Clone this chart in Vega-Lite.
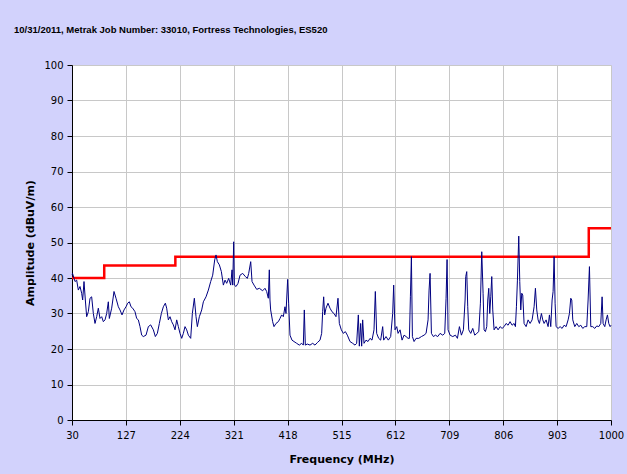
{
  "$schema": "https://vega.github.io/schema/vega-lite/v6.json",
  "width": 539,
  "height": 355,
  "autosize": {"type": "none"},
  "padding": {"left": 72, "top": 65, "right": 16, "bottom": 54},
  "background": "#d2d2fc",
  "title": {
    "text": "10/31/2011, Metrak Job Number: 33010, Fortress Technologies, ES520",
    "anchor": "start",
    "frame": "group",
    "dx": -58,
    "offset": 26,
    "font": "Liberation Sans",
    "fontSize": 9.5,
    "fontWeight": "bold",
    "color": "#000000"
  },
  "config": {
    "view": {"fill": "#ffffff", "stroke": null},
    "axis": {
      "labelFont": "DejaVu Sans",
      "labelFontSize": 10,
      "labelColor": "#000000",
      "titleFont": "DejaVu Sans",
      "titleFontSize": 11,
      "titleFontWeight": "bold",
      "titleColor": "#000000",
      "domainColor": "#000000",
      "domainWidth": 1,
      "tickColor": "#000000",
      "tickSize": 5,
      "gridColor": "#c8c8c8",
      "gridWidth": 1
    }
  },
  "datasets": {
    "limit": [
      {"f": 30, "a": 40},
      {"f": 88, "a": 43.5},
      {"f": 216, "a": 46},
      {"f": 960, "a": 54},
      {"f": 1000, "a": 54}
    ],
    "trace": [
      {"f": 30, "a": 41.0}, {"f": 31, "a": 41.3}, {"f": 33.6, "a": 39.9}, {"f": 35.4, "a": 39.0}, {"f": 38.4, "a": 39.4},
      {"f": 41.4, "a": 36.6}, {"f": 44.4, "a": 37.6}, {"f": 47.4, "a": 35.7}, {"f": 49.2, "a": 33.8}, {"f": 51.6, "a": 39.0},
      {"f": 54, "a": 33.8}, {"f": 56.4, "a": 29.1}, {"f": 59.4, "a": 30.5}, {"f": 62.4, "a": 34.3}, {"f": 65.4, "a": 34.7},
      {"f": 68.4, "a": 30.0}, {"f": 71.4, "a": 27.2}, {"f": 74.4, "a": 29.1}, {"f": 77.4, "a": 31.5}, {"f": 80.4, "a": 28.6},
      {"f": 83.4, "a": 29.1}, {"f": 86.4, "a": 27.7}, {"f": 89.4, "a": 28.2}, {"f": 92.4, "a": 30.0}, {"f": 95.4, "a": 33.3},
      {"f": 97.2, "a": 28.6}, {"f": 101.4, "a": 31.5}, {"f": 105.6, "a": 36.2}, {"f": 109.2, "a": 34.3}, {"f": 113.4, "a": 31.9},
      {"f": 116.4, "a": 31.0}, {"f": 120, "a": 29.6}, {"f": 123.6, "a": 31.0}, {"f": 127.2, "a": 31.9}, {"f": 130.2, "a": 32.9},
      {"f": 133.2, "a": 33.3}, {"f": 136.2, "a": 31.9}, {"f": 139.2, "a": 31.5}, {"f": 143.4, "a": 30.5}, {"f": 146.4, "a": 28.6},
      {"f": 149.4, "a": 28.2}, {"f": 152.4, "a": 26.3}, {"f": 155.4, "a": 23.9}, {"f": 158.4, "a": 23.5}, {"f": 163.2, "a": 23.9},
      {"f": 167.4, "a": 26.3}, {"f": 171.6, "a": 26.8}, {"f": 176.4, "a": 25.4}, {"f": 180, "a": 23.5}, {"f": 183.6, "a": 24.4},
      {"f": 187.2, "a": 27.2}, {"f": 190.8, "a": 30.0}, {"f": 194.4, "a": 31.9}, {"f": 198, "a": 32.9}, {"f": 200.4, "a": 31.5},
      {"f": 203.4, "a": 28.2}, {"f": 206.4, "a": 29.1}, {"f": 209.4, "a": 27.7}, {"f": 212.4, "a": 26.8}, {"f": 215.4, "a": 25.4},
      {"f": 218.4, "a": 28.2}, {"f": 221.4, "a": 26.3}, {"f": 224.4, "a": 24.4}, {"f": 227.4, "a": 23.0}, {"f": 230.4, "a": 24.4},
      {"f": 233.4, "a": 26.3}, {"f": 236.4, "a": 25.4}, {"f": 239.4, "a": 23.9}, {"f": 243.6, "a": 23.0}, {"f": 246.6, "a": 30.0},
      {"f": 250.2, "a": 34.3}, {"f": 253.2, "a": 29.1}, {"f": 255.6, "a": 26.3}, {"f": 259.2, "a": 29.1}, {"f": 263.4, "a": 31.0},
      {"f": 266.4, "a": 33.3}, {"f": 271.2, "a": 34.7}, {"f": 275.4, "a": 36.6}, {"f": 279.6, "a": 39.0}, {"f": 283.2, "a": 40.8},
      {"f": 286.8, "a": 45.1}, {"f": 289.2, "a": 46.5}, {"f": 291.6, "a": 44.6}, {"f": 295.2, "a": 43.7}, {"f": 298.8, "a": 41.8},
      {"f": 302.4, "a": 38.0}, {"f": 305.4, "a": 39.4}, {"f": 308.4, "a": 38.5}, {"f": 312, "a": 39.9}, {"f": 315.6, "a": 38.0},
      {"f": 318, "a": 42.3}, {"f": 319.2, "a": 38.0}, {"f": 321, "a": 50.2}, {"f": 322.2, "a": 38.0}, {"f": 325.2, "a": 37.6},
      {"f": 328.8, "a": 38.5}, {"f": 332.4, "a": 40.8}, {"f": 337.2, "a": 41.3}, {"f": 342, "a": 40.4}, {"f": 345.6, "a": 39.9},
      {"f": 348, "a": 41.3}, {"f": 351.6, "a": 44.6}, {"f": 354, "a": 39.0}, {"f": 357.6, "a": 38.0}, {"f": 362.4, "a": 36.8},
      {"f": 367.2, "a": 37.1}, {"f": 373, "a": 36.4}, {"f": 377.3, "a": 37.1}, {"f": 380.3, "a": 36.2}, {"f": 383.3, "a": 34.3},
      {"f": 385.1, "a": 42.3}, {"f": 386.3, "a": 33.8}, {"f": 387.5, "a": 31.0}, {"f": 391.1, "a": 27.7}, {"f": 393.5, "a": 26.3},
      {"f": 397.1, "a": 27.2}, {"f": 401.3, "a": 27.7}, {"f": 404.3, "a": 28.6}, {"f": 407.3, "a": 29.6}, {"f": 410.3, "a": 29.1},
      {"f": 413.3, "a": 31.9}, {"f": 415.1, "a": 30.0}, {"f": 418.1, "a": 39.6}, {"f": 419.9, "a": 32.9}, {"f": 422.3, "a": 23.9},
      {"f": 425.9, "a": 22.5}, {"f": 429.5, "a": 22.1}, {"f": 434.3, "a": 21.6}, {"f": 439.1, "a": 21.1}, {"f": 443.3, "a": 21.6},
      {"f": 446.3, "a": 21.1}, {"f": 448.1, "a": 31.0}, {"f": 449.9, "a": 21.1}, {"f": 453.5, "a": 21.4}, {"f": 458.3, "a": 21.1},
      {"f": 463.1, "a": 21.6}, {"f": 467.3, "a": 21.1}, {"f": 471.5, "a": 21.8}, {"f": 476.3, "a": 22.5}, {"f": 479.3, "a": 24.4},
      {"f": 481.1, "a": 30.5}, {"f": 482.9, "a": 34.7}, {"f": 484.7, "a": 29.6}, {"f": 487.1, "a": 31.5}, {"f": 490.7, "a": 32.9},
      {"f": 494.3, "a": 31.5}, {"f": 497.9, "a": 30.5}, {"f": 501.5, "a": 30.0}, {"f": 505.1, "a": 29.1}, {"f": 508.7, "a": 34.3},
      {"f": 511.1, "a": 27.2}, {"f": 514.7, "a": 25.4}, {"f": 518.3, "a": 24.4}, {"f": 521.9, "a": 24.9}, {"f": 525.5, "a": 23.9},
      {"f": 530.3, "a": 22.1}, {"f": 535.1, "a": 21.6}, {"f": 539.3, "a": 21.1}, {"f": 542.3, "a": 21.6}, {"f": 545.3, "a": 29.6},
      {"f": 547.1, "a": 20.8}, {"f": 549.5, "a": 27.2}, {"f": 551.3, "a": 20.8}, {"f": 553.1, "a": 28.2}, {"f": 555.5, "a": 21.6},
      {"f": 559.1, "a": 22.5}, {"f": 562.7, "a": 22.1}, {"f": 566.3, "a": 23.0}, {"f": 569.9, "a": 22.5}, {"f": 573.5, "a": 25.4},
      {"f": 575.9, "a": 36.2}, {"f": 578.3, "a": 24.4}, {"f": 581.9, "a": 23.0}, {"f": 585.5, "a": 22.5}, {"f": 589.1, "a": 26.3},
      {"f": 590.9, "a": 22.5}, {"f": 595.1, "a": 23.5}, {"f": 599.3, "a": 22.5}, {"f": 603.5, "a": 23.5}, {"f": 607.1, "a": 30.0},
      {"f": 608.9, "a": 38.0}, {"f": 611.3, "a": 25.4}, {"f": 614.4, "a": 26.3}, {"f": 616.8, "a": 24.4}, {"f": 620.4, "a": 25.4},
      {"f": 624, "a": 22.5}, {"f": 627.6, "a": 23.9}, {"f": 631.2, "a": 23.5}, {"f": 634.8, "a": 23.0}, {"f": 637.2, "a": 23.0},
      {"f": 639, "a": 34.7}, {"f": 640.8, "a": 46.0}, {"f": 642.6, "a": 23.5}, {"f": 645.6, "a": 22.1}, {"f": 649.2, "a": 23.0},
      {"f": 654, "a": 23.0}, {"f": 658.8, "a": 23.5}, {"f": 663.6, "a": 23.9}, {"f": 667.2, "a": 24.4}, {"f": 670.8, "a": 28.2},
      {"f": 672.6, "a": 36.6}, {"f": 674.4, "a": 41.3}, {"f": 676.8, "a": 24.4}, {"f": 680.4, "a": 23.5}, {"f": 684, "a": 23.9},
      {"f": 688.2, "a": 23.5}, {"f": 692.4, "a": 24.4}, {"f": 697.2, "a": 23.9}, {"f": 700.8, "a": 24.4}, {"f": 703.2, "a": 34.3},
      {"f": 705, "a": 45.2}, {"f": 706.8, "a": 25.4}, {"f": 710.4, "a": 23.9}, {"f": 715.2, "a": 23.5}, {"f": 720, "a": 23.9},
      {"f": 723.6, "a": 23.0}, {"f": 727.2, "a": 26.3}, {"f": 730.8, "a": 23.9}, {"f": 734.4, "a": 25.4}, {"f": 737.4, "a": 33.8},
      {"f": 738.6, "a": 40.4}, {"f": 740.4, "a": 41.8}, {"f": 742.2, "a": 31.9}, {"f": 744, "a": 25.4}, {"f": 747.6, "a": 24.4},
      {"f": 751.2, "a": 25.8}, {"f": 754.8, "a": 23.9}, {"f": 758.4, "a": 24.4}, {"f": 762, "a": 24.9}, {"f": 765, "a": 32.9},
      {"f": 767.4, "a": 47.4}, {"f": 769.8, "a": 35.7}, {"f": 771.6, "a": 25.4}, {"f": 774, "a": 24.9}, {"f": 776.4, "a": 26.3},
      {"f": 778.2, "a": 33.8}, {"f": 780, "a": 37.1}, {"f": 781.8, "a": 30.0}, {"f": 783.6, "a": 34.7}, {"f": 785.4, "a": 40.4},
      {"f": 787.2, "a": 31.0}, {"f": 789.6, "a": 25.4}, {"f": 793.2, "a": 26.3}, {"f": 796.8, "a": 25.4}, {"f": 800.4, "a": 26.3},
      {"f": 804, "a": 25.8}, {"f": 807.6, "a": 26.3}, {"f": 811.2, "a": 27.2}, {"f": 814.8, "a": 26.7}, {"f": 818.4, "a": 27.7},
      {"f": 822, "a": 26.7}, {"f": 825.6, "a": 27.2}, {"f": 828, "a": 26.3}, {"f": 829.8, "a": 31.9}, {"f": 831.6, "a": 39.4},
      {"f": 834, "a": 51.8}, {"f": 835.8, "a": 39.0}, {"f": 837.6, "a": 31.0}, {"f": 839.4, "a": 35.7}, {"f": 841.2, "a": 35.2},
      {"f": 843.6, "a": 27.2}, {"f": 847.2, "a": 26.3}, {"f": 850.8, "a": 28.2}, {"f": 854.4, "a": 27.2}, {"f": 858, "a": 28.2},
      {"f": 861.6, "a": 31.9}, {"f": 864, "a": 37.1}, {"f": 866.4, "a": 31.0}, {"f": 868.8, "a": 28.2}, {"f": 871.2, "a": 27.2},
      {"f": 874.8, "a": 30.0}, {"f": 877.2, "a": 28.2}, {"f": 879.6, "a": 27.2}, {"f": 883.2, "a": 28.2}, {"f": 886.8, "a": 26.3},
      {"f": 889.2, "a": 29.6}, {"f": 891.6, "a": 26.3}, {"f": 894, "a": 33.8}, {"f": 895.8, "a": 36.2}, {"f": 897.6, "a": 46.0},
      {"f": 899.4, "a": 32.9}, {"f": 901.2, "a": 26.3}, {"f": 904.8, "a": 25.8}, {"f": 908.4, "a": 26.3}, {"f": 912, "a": 25.8},
      {"f": 915.6, "a": 26.7}, {"f": 919.2, "a": 26.3}, {"f": 922.8, "a": 28.2}, {"f": 925.2, "a": 30.0}, {"f": 927.6, "a": 34.3},
      {"f": 929.4, "a": 33.8}, {"f": 931.2, "a": 28.2}, {"f": 934.8, "a": 26.3}, {"f": 938.4, "a": 27.2}, {"f": 942, "a": 26.3},
      {"f": 945.6, "a": 26.7}, {"f": 949.2, "a": 25.8}, {"f": 952.8, "a": 26.3}, {"f": 956.4, "a": 26.3}, {"f": 958.8, "a": 33.8},
      {"f": 961.2, "a": 43.2}, {"f": 963.6, "a": 26.3}, {"f": 967.2, "a": 26.3}, {"f": 970.8, "a": 25.8}, {"f": 974.4, "a": 26.5},
      {"f": 978, "a": 26.3}, {"f": 981.6, "a": 27.2}, {"f": 984, "a": 34.7}, {"f": 985.8, "a": 27.2}, {"f": 988.8, "a": 26.3},
      {"f": 991.2, "a": 28.2}, {"f": 993.6, "a": 29.6}, {"f": 996, "a": 27.2}, {"f": 998.4, "a": 26.3}, {"f": 1000, "a": 26.7}
    ]
  },
  "encoding": {
    "x": {
      "field": "f",
      "type": "quantitative",
      "scale": {"domain": [30, 1000], "nice": false, "zero": false},
      "axis": {
        "title": "Frequency (MHz)",
        "values": [30, 127, 224, 321, 418, 515, 612, 709, 806, 903, 1000],
        "format": "d",
        "labelPadding": 5,
        "titlePadding": 13,
        "labelFlush": false
      }
    },
    "y": {
      "field": "a",
      "type": "quantitative",
      "scale": {"domain": [0, 100], "nice": false},
      "axis": {
        "title": "Amplitude (dBuV/m)",
        "values": [0, 10, 20, 30, 40, 50, 60, 70, 80, 90, 100],
        "labelPadding": 4,
        "titlePadding": 8
      }
    }
  },
  "layer": [
    {
      "data": {"name": "limit"},
      "mark": {"type": "line", "color": "#ff0000", "strokeWidth": 2.5, "interpolate": "step-after"}
    },
    {
      "data": {"name": "trace"},
      "mark": {"type": "line", "color": "#000080", "strokeWidth": 1}
    }
  ]
}
